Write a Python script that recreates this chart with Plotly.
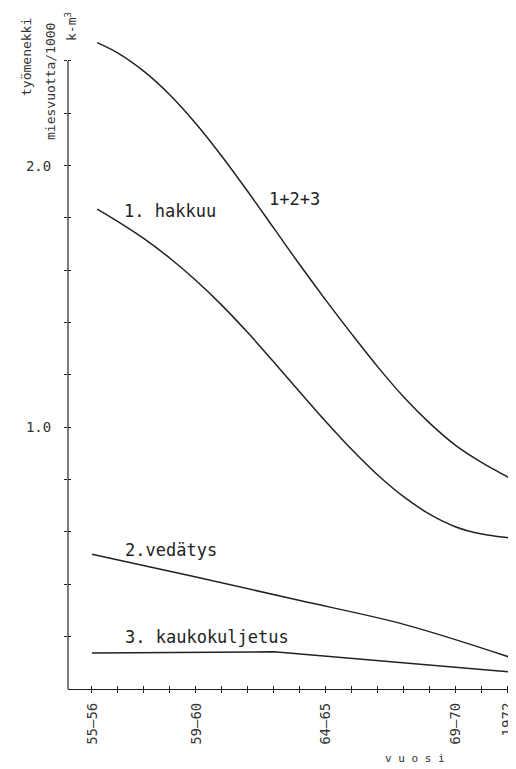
import plotly.graph_objects as go

# x positions as year index (0 = 55-56, 16 = 1972)
x_curve = [0.2, 1, 2, 3, 4, 5, 6, 7, 8, 9, 10, 11, 12, 13, 14, 15, 16, 16.3]
total_123 = [2.47, 2.43, 2.36, 2.27, 2.16, 2.035, 1.90, 1.76, 1.62, 1.485, 1.355,
             1.23, 1.115, 1.015, 0.93, 0.865, 0.81, 0.795]
hakkuu = [1.834, 1.786, 1.721, 1.646, 1.561, 1.466, 1.361, 1.249, 1.134, 1.021, 0.914,
          0.817, 0.734, 0.667, 0.619, 0.592, 0.578, 0.575]
x_vedatys = [0, 4, 8, 12, 16.3]
vedatys = [0.515, 0.428, 0.338, 0.247, 0.114]
x_kauko = [0, 7, 16.3]
kauko = [0.138, 0.142, 0.063]

x_tickvals = list(range(0, 17))
x_ticklabels = {0: "55–56", 4: "59–60", 9: "64–65", 14: "69–70", 16: "1972"}
y_tickvals = [0.2, 0.4, 0.6, 0.8, 1.0, 1.2, 1.4, 1.6, 1.8, 2.0, 2.2, 2.4]
y_ticklabels = {1.0: "1.0", 2.0: "2.0"}

FONT = "DejaVu Sans Mono"
INK = "#222222"
XR = [-0.923, 16.31]
YR = [0, 2.48]

fig = go.Figure()
line = dict(color=INK, width=1.5)
fig.add_trace(go.Scatter(x=x_curve, y=total_123, mode="lines", line=dict(shape="spline", **line)))
fig.add_trace(go.Scatter(x=x_curve, y=hakkuu, mode="lines", line=dict(shape="spline", **line)))
fig.add_trace(go.Scatter(x=x_vedatys, y=vedatys, mode="lines", line=dict(shape="spline", **line)))
fig.add_trace(go.Scatter(x=x_kauko, y=kauko, mode="lines", line=dict(shape="linear", **line)))
# empty trace to host the inner-tick overlay axes
fig.add_trace(go.Scatter(x=[None], y=[None], xaxis="x2", yaxis="y2", mode="lines"))

tickfont = dict(family=FONT, size=14, color="#333333")
# page body has an 8px margin, so the figure is 8px smaller and offset
fig.update_layout(
    width=508, height=761,
    margin=dict(l=60, r=0, t=32, b=80),
    paper_bgcolor="white", plot_bgcolor="white",
    showlegend=False,
    xaxis=dict(range=XR, showgrid=False, zeroline=False, showline=True, linecolor=INK, linewidth=1.2,
               tickvals=x_tickvals, ticktext=[x_ticklabels.get(v, "") for v in x_tickvals],
               ticks="outside", ticklen=3, tickcolor=INK, tickwidth=1, automargin=False,
               tickangle=-90, tickfont=tickfont, ticklabelstandoff=4),
    yaxis=dict(range=YR, showgrid=False, zeroline=False, showline=False, automargin=False,
               tickvals=y_tickvals, ticktext=[y_ticklabels.get(round(v, 1), "") for v in y_tickvals],
               ticks="outside", ticklen=3, tickcolor=INK, tickwidth=1,
               tickfont=tickfont, ticklabelstandoff=10),
    xaxis2=dict(range=XR, overlaying="x", anchor="y2", side="bottom", showgrid=False, zeroline=False,
                showline=False, tickvals=x_tickvals, ticks="inside", ticklen=3, tickcolor=INK,
                showticklabels=False, automargin=False),
    yaxis2=dict(range=YR, overlaying="y", anchor="x2", side="left", showgrid=False, zeroline=False,
                showline=False, tickvals=y_tickvals, ticks="inside", ticklen=3, tickcolor=INK,
                showticklabels=False, automargin=False),
)

# y axis line (drawn only up to the last tick, as in the original)
fig.add_shape(type="line", xref="paper", yref="y", x0=0, x1=0, y0=0, y1=y_tickvals[-1],
              line=dict(color=INK, width=1.2))

lab = dict(family=FONT, size=17, color="#222222")
fig.add_annotation(x=7.8, y=1.872, text="1+2+3", showarrow=False, font=lab, xanchor="center")
fig.add_annotation(x=1.15, y=1.826, text="1. hakkuu", showarrow=False, font=lab, xanchor="left")
fig.add_annotation(x=1.19, y=0.531, text="2.vedätys", showarrow=False, font=lab, xanchor="left")
fig.add_annotation(x=1.19, y=0.199, text="3. kaukokuljetus", showarrow=False, font=lab, xanchor="left")

# axis titles (paper coords relative to the plot area: x 68..516, y 40..689 on the page)
tfont = dict(family=FONT, size=13, color="#333333")
fig.add_annotation(xref="paper", yref="paper", x=(415 - 68) / 448, y=(689 - 758) / 649,
                   text="v u o s i", showarrow=False, font=dict(family=FONT, size=11, color="#333333"),
                   xanchor="center", yanchor="middle")
fig.add_annotation(xref="paper", yref="paper", x=(27 - 68) / 448, y=(689 - 57) / 649,
                   text="työmenekki", textangle=-90, showarrow=False, font=tfont,
                   xanchor="center", yanchor="middle")
fig.add_annotation(xref="paper", yref="paper", x=(51 - 68) / 448, y=(689 - 82) / 649,
                   text="miesvuotta/1000", textangle=-90, showarrow=False, font=tfont,
                   xanchor="center", yanchor="middle")
fig.add_annotation(xref="paper", yref="paper", x=(71 - 68) / 448, y=(689 - 27) / 649,
                   text="k-m<sup>3</sup>", textangle=-90, showarrow=False, font=tfont,
                   xanchor="center", yanchor="middle")

fig.write_html("out.html")
